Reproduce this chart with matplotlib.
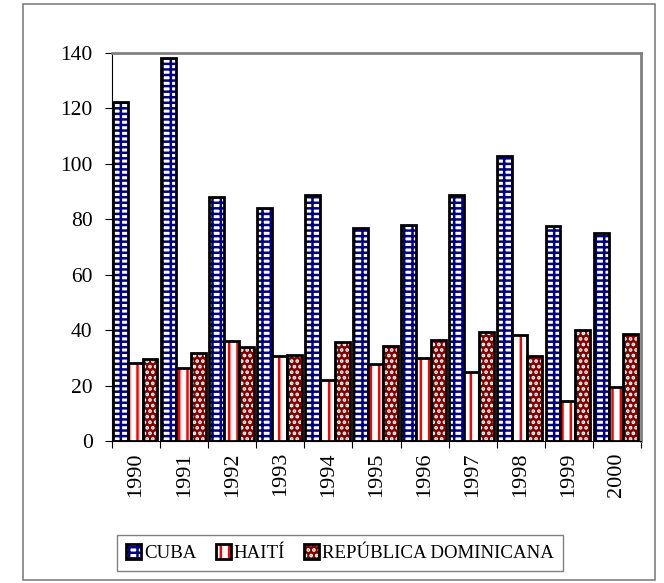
import numpy as np
import matplotlib
matplotlib.use("Agg")
import matplotlib.pyplot as plt
from matplotlib.patches import Rectangle, Patch

years = ["1990", "1991", "1992", "1993", "1994", "1995", "1996", "1997", "1998", "1999", "2000"]
cuba = [122.5, 138.2, 88.2, 84.0, 88.8, 76.8, 78.0, 88.8, 102.9, 77.4, 75.0]
haiti = [28.0, 26.2, 36.1, 30.5, 22.0, 27.8, 29.9, 24.8, 38.3, 14.4, 19.6]
rep_dom = [29.5, 31.7, 33.8, 31.0, 35.9, 34.1, 36.5, 39.5, 30.5, 40.1, 38.6]
names = ["CUBA", "HAITÍ", "REPÚBLICA DOMINICANA"]

plt.rcParams['font.family'] = ['Liberation Serif', 'DejaVu Serif']
plt.rcParams['hatch.linewidth'] = 1.8

fig = plt.figure(figsize=(6.64, 5.83), dpi=100)
ax = fig.add_axes([112 / 664, 1 - 441 / 583, 529 / 664, 388 / 583])

# outer frame of the chart area
fig.patches.append(Rectangle((23 / 664, 3 / 583), 632 / 664, 576 / 583,
                             transform=fig.transFigure, fill=False,
                             edgecolor='#808080', linewidth=1.2))

x = np.arange(len(years))
w = 0.31
styles = [
    # face, hatch colour, hatch
    ('white', '#000080', '---||'),
    ('white', '#ff0000', '||'),
    ('#800000', 'white', '...'),
]
handles = []
for i, (vals, (face, hc, hatch)) in enumerate(zip([cuba, haiti, rep_dom], styles)):
    pos = x + (i - 1) * w - 0.02
    ax.bar(pos, vals, w, color=face, edgecolor=hc, hatch=hatch, linewidth=0)
    ax.bar(pos, vals, w, fill=False, edgecolor='black', linewidth=2)
    h1 = Patch(facecolor=face, edgecolor=hc, hatch=hatch, linewidth=0)
    h2 = Patch(fill=False, edgecolor='black', linewidth=2)
    handles.append((h1, h2))

ax.set_xlim(-0.5, len(years) - 0.5)
ax.set_ylim(0, 140)
ax.set_yticks(range(0, 141, 20))
ax.set_xticks(np.arange(-0.5, len(years), 1))
ax.set_xticklabels([])
ax.set_xticks(x, minor=True)
ax.set_xticklabels(years, minor=True, rotation=90)
ax.tick_params(axis='x', which='minor', length=0, labelsize=16, pad=8)
ax.tick_params(axis='x', which='major', length=5, direction='out')
ax.tick_params(axis='y', labelsize=15.5, length=5, direction='out', pad=9)

for s in ['top', 'right']:
    ax.spines[s].set_color('#808080')
    ax.spines[s].set_linewidth(2)
for s in ['left', 'bottom']:
    ax.spines[s].set_color('black')

leg = fig.legend(handles, names, loc='center', bbox_to_anchor=(340 / 664, 1 - 553 / 583),
                 ncol=3, fontsize=13.6, frameon=True, fancybox=False,
                 edgecolor='#606060', handlelength=0.8, handleheight=0.8,
                 handletextpad=0.15, columnspacing=1.0, borderpad=0.5)
leg.get_frame().set_linewidth(1)

plt.savefig("out.png", dpi=100)
